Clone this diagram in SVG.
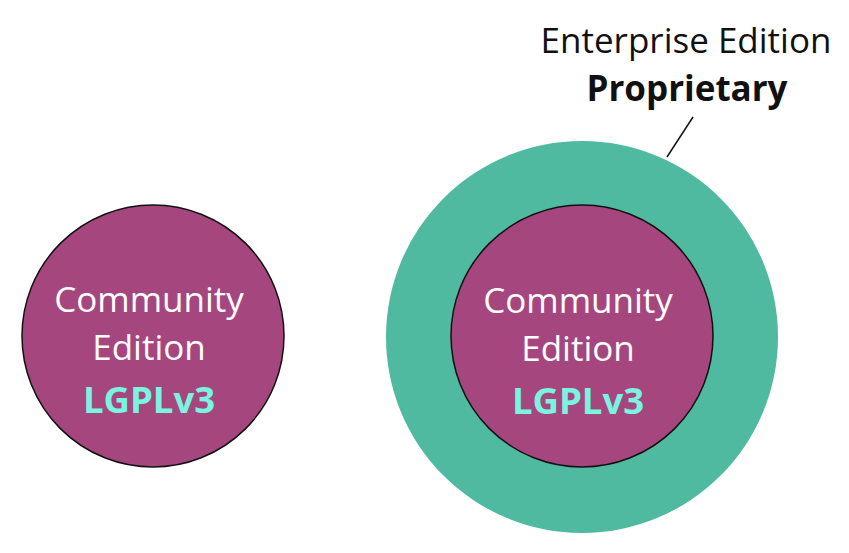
<svg xmlns="http://www.w3.org/2000/svg" width="849" height="553" viewBox="0 0 849 553">
<style>
.ce{fill:#A6467F;stroke:#111;stroke-width:1.5}
.ee{fill:#4FBA9F}
text{font-family:"Open Sans","Liberation Sans",sans-serif;text-anchor:middle}
.w{fill:#fff;font-size:35px}
.lic{fill:#7AF3E0;font-size:36.5px;font-weight:bold}
.k{fill:#111;font-size:35px}
</style>
<rect width="849" height="553" fill="#fff"/>
<g id="community-left">
<circle class="ce" cx="153" cy="336" r="131"/>
<text class="w" x="149" y="312">Community</text>
<text class="w" x="149" y="360">Edition</text>
<text class="lic" x="149" y="413">LGPLv3</text>
</g>
<g id="enterprise">
<circle class="ee" cx="582" cy="337" r="196"/>
<text class="k" x="686" y="53">Enterprise Edition</text>
<text class="k" x="687" y="101" font-weight="bold">Proprietary</text>
</g>
<g id="community-inner">
<circle class="ce" cx="582" cy="336" r="131"/>
<text class="w" x="578" y="313">Community</text>
<text class="w" x="578" y="361">Edition</text>
<text class="lic" x="578" y="414">LGPLv3</text>
</g>
<g id="connectors">
<line x1="693" y1="117" x2="667" y2="157" stroke="#111" stroke-width="1.5"/>
</g>
</svg>
